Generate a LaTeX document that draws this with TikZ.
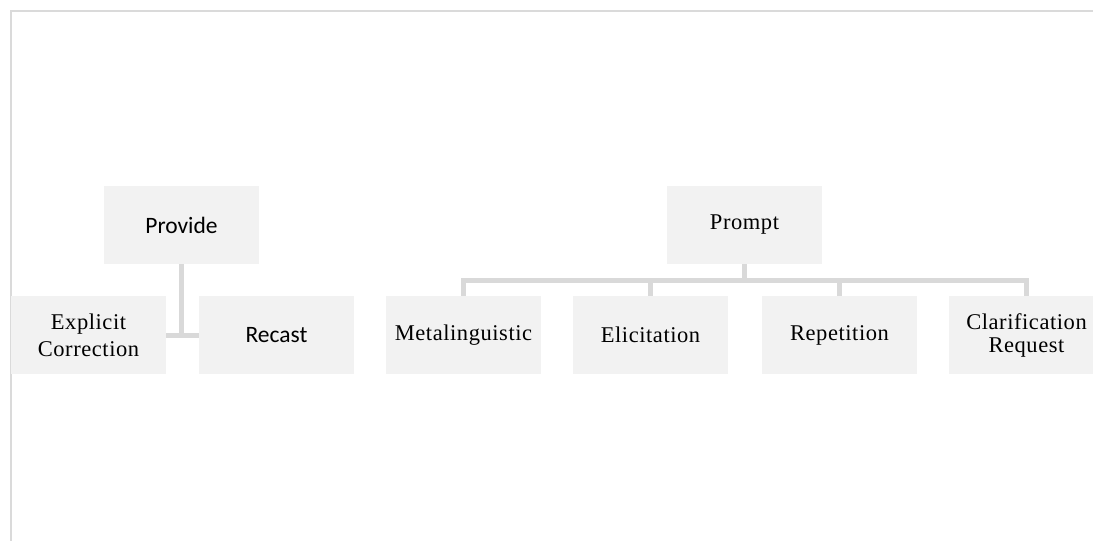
\documentclass[tikz,border=0pt]{standalone}
\usepackage{fontspec}
\setmainfont{Liberation Serif}[LetterSpace=2.5]
\newfontfamily\sansf{Carlito}
\definecolor{boxfill}{HTML}{F2F2F2}
\definecolor{linegray}{HTML}{D9D9D9}
\definecolor{framegray}{HTML}{DADADA}
\tikzset{
  box/.style={fill=boxfill, minimum width=155pt, minimum height=78pt, inner sep=0pt, align=center, font=\fontsize{22.5}{26}\selectfont},
  sbox/.style={box, font=\sansf\fontsize{23.5}{27}\selectfont},
  conn/.style={draw=linegray, line width=5pt},
}
\begin{document}
\begin{tikzpicture}[x=1pt,y=-1pt]
\useasboundingbox (0,0) rectangle (1093,541);
\clip (0,0) rectangle (1093,541);
\fill[white] (0,0) rectangle (1093,541);
\draw[framegray, line width=2pt] (11,541) -- (11,11) -- (1093,11);
% nodes
\node[sbox] (prov) at (181.5,225) {Provide};
\node[box, font=\fontsize{22.5}{27}\selectfont] (ec) at (88.5,335) {Explicit\\Correction};
\node[sbox] (rc) at (276.5,335) {Recast};
\node[box] (pr) at (744.5,225) {Prompt};
\node[box] (meta) at (463.5,335) {Metalinguistic};
\node[box] (eli) at (650.5,335) {Elicitation};
\node[box] (rep) at (839.5,335) {Repetition};
\node[box, font=\fontsize{22.5}{23}\selectfont] (clar) at (1026.5,335) {Clarification\\Request};
% connectors
\draw[conn] (prov.south) -- (prov.south |- ec.east);
\draw[conn] (ec.east) -- (rc.west);
\draw[conn] (pr.south) -- ++(0,16) coordinate (bus);
\draw[conn, line join=miter] (meta.north) |- (bus) -| (clar.north);
\draw[conn] (eli.north) -- (eli.north |- bus);
\draw[conn] (rep.north) -- (rep.north |- bus);
\end{tikzpicture}
\end{document}
